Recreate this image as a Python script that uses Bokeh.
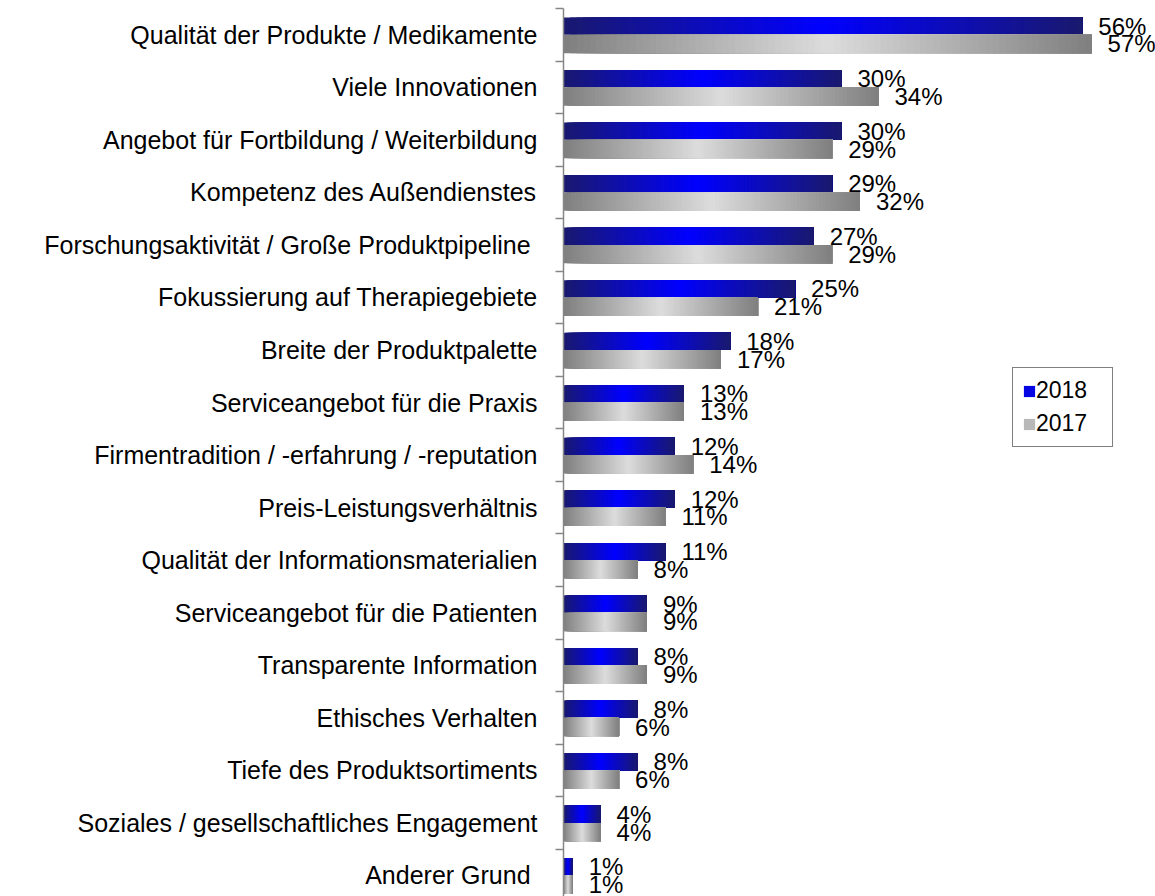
from bokeh.plotting import figure
from bokeh.models import ColumnDataSource, Range1d, FixedTicker, Legend, LegendItem
from bokeh.core.properties import value
from bokeh.embed import file_html
from bokeh.resources import INLINE

# ---------------- data ----------------
categories = [
    "Qualität der Produkte / Medikamente",
    "Viele Innovationen",
    "Angebot für Fortbildung / Weiterbildung",
    "Kompetenz des Außendienstes",
    "Forschungsaktivität / Große Produktpipeline ",
    "Fokussierung auf Therapiegebiete",
    "Breite der Produktpalette",
    "Serviceangebot für die Praxis",
    "Firmentradition / -erfahrung / -reputation",
    "Preis-Leistungsverhältnis",
    "Qualität der Informationsmaterialien",
    "Serviceangebot für die Patienten",
    "Transparente Information",
    "Ethisches Verhalten",
    "Tiefe des Produktsortiments",
    "Soziales / gesellschaftliches Engagement",
    "Anderer Grund ",
]
values_2018 = [56, 30, 30, 29, 27, 25, 18, 13, 12, 12, 11, 9, 8, 8, 8, 4, 1]
values_2017 = [57, 34, 29, 32, 29, 21, 17, 13, 14, 11, 8, 9, 9, 6, 6, 4, 1]
series_names = ["2018", "2017"]

FONT = "Liberation Sans"
N_SEG = 80


def gradient(edge, center, n):
    cols = []
    for k in range(n):
        t = k / (n - 1)
        f = 1 - abs(2 * t - 1)
        rgb = [round(e + (c - e) * f) for e, c in zip(edge, center)]
        cols.append("#%02x%02x%02x" % tuple(rgb))
    return cols


blue_cols = gradient((25, 25, 112), (0, 0, 255), N_SEG)
gray_cols = gradient((128, 128, 128), (220, 220, 220), N_SEG)

p = figure(
    width=1155, height=896,
    output_backend="svg", toolbar_location=None,
    x_range=Range1d(0, 63.9), y_range=Range1d(16.4, -0.5),
    x_axis_location=None,
    min_border_left=563, min_border_right=0, min_border_top=8, min_border_bottom=0,
    outline_line_color=None,
)
p.grid.visible = False

series = [
    (values_2018, -0.165, 0.33, blue_cols),
    (values_2017, 0.175, 0.35, gray_cols),
]

bar_renderers = []
for vals, off, h, cols in series:
    d = dict(y=[], left=[], right=[], h=[], c=[])
    for k in range(N_SEG):
        for i, v in enumerate(vals):
            d["y"].append(i + off)
            d["left"].append(v * k / N_SEG)
            d["right"].append(v)
            d["h"].append(h)
            d["c"].append(cols[k])
    r = p.hbar(y="y", left="left", right="right", height="h", fill_color="c",
               line_color=None, source=ColumnDataSource(d))
    bar_renderers.append(r)
    lab = ColumnDataSource(dict(
        x=list(vals),
        y=[i + off for i in range(len(vals))],
        t=[f"{v}%" for v in vals],
    ))
    p.text(x="x", y="y", text="t", source=lab, x_offset=16,
           text_font=value(FONT), text_font_size="24px",
           text_baseline="middle", text_align="left", text_color="black")

n_cat = len(categories)
legend = Legend(
    items=[LegendItem(label=series_names[0], renderers=[bar_renderers[0]],
                      index=int(N_SEG * 0.4) * n_cat),
           LegendItem(label=series_names[1], renderers=[bar_renderers[1]],
                      index=int(N_SEG * 0.3) * n_cat)],
    location=(449, 449),
    border_line_color="black", border_line_width=1,
    padding=9, spacing=6, margin=0,
    glyph_width=14, glyph_height=14, label_standoff=0, label_width=67,
    label_text_font=FONT, label_text_font_size="23px", label_text_color="black",
    background_fill_color="white", background_fill_alpha=1,
)
p.add_layout(legend)

ax = p.yaxis[0]
ax.ticker = FixedTicker(ticks=list(range(n_cat)),
                        minor_ticks=[i - 0.5 for i in range(n_cat + 1)])
ax.major_label_overrides = {i: c for i, c in enumerate(categories)}
ax.major_tick_line_color = None
ax.major_tick_out = 0
ax.major_tick_in = 0
ax.minor_tick_out = 8
ax.minor_tick_in = 0
ax.minor_tick_line_color = "#868686"
ax.minor_tick_line_width = 1.5
ax.axis_line_color = "#868686"
ax.axis_line_width = 1.5
ax.major_label_text_font = FONT
ax.major_label_text_font_size = "25px"
ax.major_label_text_color = "black"
ax.major_label_standoff = 18

open("out.html", "w").write(file_html(p, INLINE))
